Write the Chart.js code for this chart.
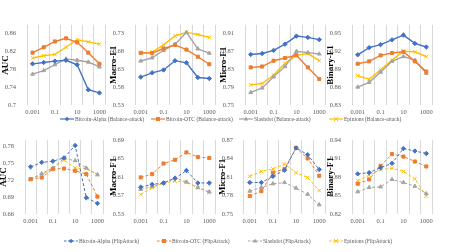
<!DOCTYPE html>
<html>
<head>
<meta charset="utf-8">
<script src="https://cdn.jsdelivr.net/npm/chart.js@4"></script>
<style>
body { margin: 0; background: #fff; width: 449px; height: 252px; position: relative; overflow: hidden; font-family: "Liberation Serif", serif; }
canvas { position: absolute; }
.lg { position: absolute; font-size: 5.5px; line-height: 8px; color: #595959; white-space: nowrap; display: flex; align-items: center; }
.lg svg { margin-right: 1px; }
</style>
</head>
<body>
<script>
const xLabels = ['0.001', '0.01', '0.1', '1', '10', '100', '1000'];
const xShown = ['0.001', '0.1', '10', '1000'];
const seriesNames = ['Bitcoin-Alpha', 'Bitcoin-OTC', 'Slashdot', 'Epinions'];
const seriesColors = ['#4472C4', '#ED7D31', '#A5A5A5', '#FFC000'];
const seriesMarkers = ['rectRot', 'rect', 'triangle', 'crossRot'];

// Balance-attack
const aucAlphaB = [0.792, 0.795, 0.798, 0.800, 0.790, 0.734, 0.727];
const aucOtcB = [0.817, 0.829, 0.842, 0.849, 0.840, 0.817, 0.792];
const aucSlashB = [0.769, 0.777, 0.790, 0.803, 0.800, 0.796, 0.785];
const aucEpinB = [0.805, 0.810, 0.813, 0.829, 0.846, 0.841, 0.836];

const macroAlphaB = [0.608, 0.620, 0.628, 0.654, 0.648, 0.607, 0.604];
const macroOtcB = [0.676, 0.675, 0.688, 0.698, 0.685, 0.665, 0.644];
const macroSlashB = [0.653, 0.662, 0.683, 0.700, 0.733, 0.687, 0.675];
const macroEpinB = [0.675, 0.678, 0.698, 0.723, 0.733, 0.727, 0.719];

const microAlphaB = [0.863, 0.865, 0.872, 0.886, 0.904, 0.901, 0.896];
const microOtcB = [0.834, 0.836, 0.849, 0.855, 0.861, 0.834, 0.808];
const microSlashB = [0.778, 0.788, 0.813, 0.836, 0.870, 0.867, 0.864];
const microEpinB = [0.795, 0.798, 0.817, 0.843, 0.861, 0.865, 0.849];

const binAlphaB = [0.914, 0.926, 0.931, 0.939, 0.947, 0.933, 0.927];
const binOtcB = [0.899, 0.903, 0.913, 0.917, 0.919, 0.903, 0.886];
const binSlashB = [0.860, 0.868, 0.885, 0.903, 0.911, 0.905, 0.883];
const binEpinB = [0.879, 0.873, 0.889, 0.905, 0.920, 0.919, 0.911];

// FlipAttack
const aucAlphaF = [0.744, 0.752, 0.754, 0.760, 0.782, 0.689, 0.679];
const aucOtcF = [0.722, 0.725, 0.740, 0.741, 0.737, 0.731, 0.691];
const aucSlashF = [0.722, 0.732, 0.742, 0.759, 0.755, 0.742, 0.730];
const aucEpinF = [0.722, 0.730, 0.741, 0.756, 0.742, 0.741, 0.730];

const macroAlphaF = [0.588, 0.594, 0.597, 0.607, 0.624, 0.597, 0.597];
const macroOtcF = [0.609, 0.616, 0.639, 0.647, 0.663, 0.653, 0.651];
const macroSlashF = [0.583, 0.589, 0.597, 0.608, 0.599, 0.587, 0.578];
const macroEpinF = [0.572, 0.587, 0.597, 0.601, 0.599, 0.587, 0.576];

const microAlphaF = [0.801, 0.801, 0.811, 0.821, 0.857, 0.846, 0.822];
const microOtcF = [0.779, 0.787, 0.817, 0.823, 0.857, 0.840, 0.812];
const microSlashF = [0.787, 0.793, 0.799, 0.801, 0.792, 0.782, 0.765];
const microEpinF = [0.811, 0.819, 0.823, 0.831, 0.817, 0.809, 0.788];

const binAlphaF = [0.885, 0.887, 0.895, 0.902, 0.926, 0.922, 0.918];
const binOtcF = [0.869, 0.876, 0.898, 0.917, 0.913, 0.905, 0.897];
const binSlashF = [0.856, 0.863, 0.864, 0.876, 0.871, 0.865, 0.853];
const binEpinF = [0.874, 0.883, 0.892, 0.894, 0.889, 0.877, 0.849];

// y tick labels
const aucTicksB = [0.7, 0.74, 0.78, 0.82, 0.86];
const macroTicksB = [0.53, 0.58, 0.63, 0.68, 0.73];
const microTicksB = [0.75, 0.79, 0.83, 0.87, 0.91];
const binTicksB = [0.83, 0.86, 0.89, 0.92, 0.95];
const aucTicksF = [0.66, 0.69, 0.72, 0.75, 0.78];
const macroTicksF = [0.53, 0.57, 0.61, 0.65, 0.69];
const microTicksF = [0.75, 0.78, 0.81, 0.84, 0.87];
const binTicksF = [0.82, 0.85, 0.88, 0.91, 0.94];

const yMaxB = [0.879, 0.754, 0.929, 0.964];
const yMaxF = [0.792, 0.69, 0.87, 0.94];

Chart.defaults.font.family = '"Liberation Serif", serif';

const panels = [
    { title: 'AUC', data: [aucAlphaB, aucOtcB, aucSlashB, aucEpinB], ticks: aucTicksB, max: yMaxB[0], row: 0, left: 27, w: 81 },
    { title: 'Macro-F1', data: [macroAlphaB, macroOtcB, macroSlashB, macroEpinB], ticks: macroTicksB, max: yMaxB[1], row: 0, left: 135, w: 83 },
    { title: 'Micro-F1', data: [microAlphaB, microOtcB, microSlashB, microEpinB], ticks: microTicksB, max: yMaxB[2], row: 0, left: 245, w: 83 },
    { title: 'Binary-F1', data: [binAlphaB, binOtcB, binSlashB, binEpinB], ticks: binTicksB, max: yMaxB[3], row: 0, left: 352, w: 83 },
    { title: 'AUC', data: [aucAlphaF, aucOtcF, aucSlashF, aucEpinF], ticks: aucTicksF, max: yMaxF[0], row: 1, left: 25, w: 81 },
    { title: 'Macro-F1', data: [macroAlphaF, macroOtcF, macroSlashF, macroEpinF], ticks: macroTicksF, max: yMaxF[1], row: 1, left: 135, w: 83 },
    { title: 'Micro-F1', data: [microAlphaF, microOtcF, microSlashF, microEpinF], ticks: microTicksF, max: yMaxF[2], row: 1, left: 244, w: 84 },
    { title: 'Binary-F1', data: [binAlphaF, binOtcF, binSlashF, binEpinF], ticks: binTicksF, max: yMaxF[3], row: 1, left: 352, w: 83 }
];

const axisW = 28;

function makeChart(p) {
    const cv = document.createElement('canvas');
    cv.width = axisW + p.w + 2;
    cv.height = p.row === 0 ? 99 : 93;
    cv.style.left = (p.left - axisW) + 'px';
    cv.style.top = (p.row === 0 ? 18 : 133) + 'px';
    document.body.appendChild(cv);
    const dashed = p.row === 1;

    new Chart(cv, {
        type: 'line',
        data: {
            labels: xLabels,
            datasets: p.data.map((d, i) => ({
                label: seriesNames[i],
                data: d,
                borderColor: seriesColors[i],
                backgroundColor: seriesColors[i],
                borderWidth: dashed ? 1 : 1.4,
                borderDash: dashed ? [3, 2] : [],
                pointStyle: seriesMarkers[i],
                pointRadius: i === 3 ? 2.6 : 2.2,
                pointBorderWidth: 1,
                tension: 0
            }))
        },
        options: {
            responsive: false,
            animation: false,
            layout: { padding: { top: 5, right: 2, left: 0, bottom: 0 } },
            plugins: { legend: { display: false }, tooltip: { enabled: false } },
            scales: {
                x: {
                    offset: true,
                    grid: { offset: true, color: '#D9D9D9', drawTicks: false },
                    border: { display: false },
                    ticks: {
                        autoSkip: false, maxRotation: 0, padding: 3, color: '#595959',
                        font: { size: 6.5 },
                        callback: (v, i) => xShown.includes(xLabels[i]) ? xLabels[i] : ''
                    },
                    afterFit: s => { s.height = 12; }
                },
                y: {
                    min: p.ticks[0],
                    max: p.max,
                    grid: { display: false },
                    border: { display: false },
                    afterBuildTicks: s => { s.ticks = p.ticks.map(v => ({ value: v })); },
                    ticks: {
                        padding: 3, color: '#595959', font: { size: 6.5 },
                        callback: v => String(+v.toFixed(2))
                    },
                    title: {
                        display: true, text: p.title, color: '#000',
                        font: { size: 9, weight: 'bold' }, padding: { top: 1, bottom: 0 }
                    },
                    afterFit: s => { s.width = axisW; }
                }
            }
        }
    });
}

panels.forEach(makeChart);

function markerSvg(i, dashed) {
    const c = seriesColors[i];
    let m = '';
    if (i === 0) m = `<polygon points="7,1.8 9.2,4 7,6.2 4.8,4" fill="${c}"/>`;
    if (i === 1) m = `<rect x="5" y="2" width="4" height="4" fill="${c}"/>`;
    if (i === 2) m = `<polygon points="7,1.6 9.2,5.6 4.8,5.6" fill="${c}"/>`;
    if (i === 3) m = `<path d="M5,2 L9,6 M9,2 L5,6" stroke="${c}" stroke-width="1"/>`;
    const dash = dashed ? ' stroke-dasharray="2.5,1.5"' : '';
    return `<svg width="14" height="8"><line x1="0" y1="4" x2="14" y2="4" stroke="${c}" stroke-width="1.2"${dash}/>${m}</svg>`;
}

function addLegend(y, xs, suffix, dashed) {
    xs.forEach((x, i) => {
        const div = document.createElement('div');
        div.className = 'lg';
        div.style.left = x + 'px';
        div.style.top = (y - 4) + 'px';
        div.innerHTML = markerSvg(i, dashed) + '<span>' + seriesNames[i] + ' (' + suffix + ')</span>';
        document.body.appendChild(div);
    });
}

addLegend(119, [60, 151, 239, 329], 'Balance-attack', false);
addLegend(241, [64, 157, 248, 329], 'FlipAttack', true);
</script>
</body>
</html>
